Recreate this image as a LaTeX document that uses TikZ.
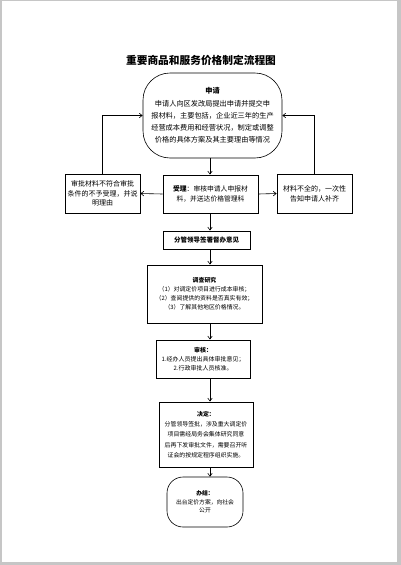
\documentclass[tikz,border=0pt]{standalone}
\usepackage{fontspec}
\setmainfont{Noto Sans CJK SC}
\usetikzlibrary{arrows.meta}
\begin{document}
\begin{tikzpicture}[x=1pt,y=-1pt,
  box/.style={draw=black,line width=0.6pt,align=center,inner sep=0pt},
  hbox/.style={box,line width=0.9pt},
  arr/.style={-{Straight Barb[length=3pt,width=4.5pt]},line width=0.6pt},
  ln/.style={line width=0.6pt}]
\fill[gray!45] (0,0) rectangle (401,565);
\fill[white] (2,1) rectangle (397,562);
\useasboundingbox (0,0) rectangle (401,565);
\coordinate (spine) at (210,0);
\node[font=\fontsize{10.7}{12}\selectfont\bfseries] (title) at (201,60) {重要商品和服务价格制定流程图};
\node[box,rounded corners=27pt,minimum width=139pt,minimum height=85pt,font=\fontsize{7.2}{12.2}\selectfont] (apply) at (212.5,115.5)
 {\textbf{申请}\\申请人向区发改局提出申请并提交申\\报材料，主要包括，企业近三年的生产\\经营成本费用和经营状况，制定或调整\\价格的具体方案及其主要理由等情况};
\node[hbox,minimum width=95pt,minimum height=38pt,font=\fontsize{6.8}{10}\selectfont] (accept) at (210.5,194)
 {\textbf{受理}：审核申请人申报材\\料，并送达价格管理科};
\node[box,minimum width=75pt,minimum height=39pt,font=\fontsize{7}{9.5}\selectfont] (reject) at (102.5,193.5)
 {审批材料不符合审批\\条件的不予受理，并说\\明理由};
\node[box,minimum width=75pt,minimum height=39pt,font=\fontsize{7}{10}\selectfont] (supp) at (314.5,193.5)
 {材料不全的，一次性\\告知申请人补齐};
\node[hbox,minimum width=87pt,minimum height=18pt,font=\fontsize{6.5}{8}\selectfont\bfseries] (lead) at (206.5,240)
 {分管领导签署督办意见};
\node[hbox,minimum width=115pt,minimum height=58pt,font=\fontsize{5.9}{9}\selectfont] (research) at (204.5,294)
 {\textbf{调查研究}\\（1）对调定价项目进行成本审核；\\（2）查阅提供的资料是否真实有效；\\（3）了解其他地区价格情况。};
\node[hbox,minimum width=94pt,minimum height=38pt,font=\fontsize{6}{9}\selectfont] (review) at (203,359)
 {\textbf{审核：}\\1.经办人员提出具体审批意见；\\2.行政审批人员核准。};
\node[hbox,minimum width=94pt,minimum height=65pt,font=\fontsize{5.9}{10.2}\selectfont] (decide) at (206,434.5)
 {\textbf{决定：}\\分管领导签批，涉及重大调定价\\项目需经局务会集体研究同意\\后再下发审批文件，需要召开听\\证会的按规定程序组织实施。};
\node[box,rounded corners=16pt,minimum width=76pt,minimum height=50pt,font=\fontsize{5.8}{8.6}\selectfont] (done) at (205,502)
 {\textbf{办结：}\\出台定价方案，向社会\\公开};
\draw[arr] (apply.south -| spine) -- (accept.north -| spine);
\draw[arr] (accept.west) -- (reject.east);
\draw[arr] (accept.east) -- (supp.west);
\draw[arr] (reject.north) |- (apply.west);
\draw[arr] (supp.north) |- (apply.east);
\draw[arr] (accept.south -| spine) -- (lead.north -| spine);
\draw[arr] (lead.south -| spine) -- (research.north -| spine);
\draw[arr] (research.south -| spine) -- (review.north -| spine);
\draw[arr] (review.south -| spine) -- (decide.north -| spine);
\draw[arr] (decide.south -| spine) -- (done.north -| spine);
\end{tikzpicture}
\end{document}
